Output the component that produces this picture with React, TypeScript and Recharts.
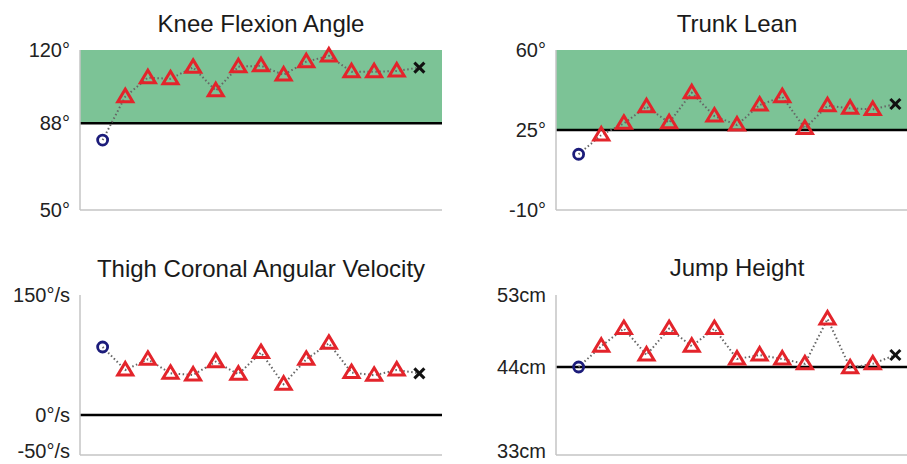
import React from 'react';
import {
  LineChart, Line, XAxis, YAxis, ReferenceArea, ReferenceLine,
} from 'recharts';

// first value = baseline (circle), last = retention (cross), rest = trials (triangles)
const kneeFlexion = [80.6, 99.6, 107.9, 107.4, 112.4, 102.2, 112.7, 113.1, 109.1, 114.9, 117.4, 110.5, 110.5, 110.8, 112.3];
const trunkLean = [14.4, 22.8, 27.9, 35.2, 28.2, 41.3, 31.1, 27.2, 35.9, 39.6, 25.7, 35.6, 34.5, 34.0, 36.4];
const thighVelocity = [85, 56.3, 69.6, 52.1, 50, 66.7, 50.9, 78, 38.4, 69.6, 89.6, 53, 49.6, 56.3, 52.1];
const jumpHeight = [44, 46.6, 48.8, 45.5, 48.8, 46.6, 48.8, 45.0, 45.5, 45.0, 44.4, 50.0, 43.9, 44.4, 45.5];

const kneeTicks = [50, 88, 120];
const trunkTicks = [-10, 25, 60];
const thighTicks = [-50, 0, 150];
const jumpTicks = [33, 44, 53];

const GREEN = '#7cc396';
const RED = '#e3242b';
const NAVY = '#1c1c7a';

const Marker = (props: any) => {
  const { cx, cy, index, count } = props;
  if (cx == null || cy == null) return null;
  if (index === 0) {
    return <circle key={index} cx={cx} cy={cy} r={5} fill="none" stroke={NAVY} strokeWidth={2.8} />;
  }
  if (index === count - 1) {
    const s = 5;
    return (
      <g key={index} stroke="#111" strokeWidth={3}>
        <line x1={cx - s} y1={cy - s} x2={cx + s} y2={cy + s} />
        <line x1={cx - s} y1={cy + s} x2={cx + s} y2={cy - s} />
      </g>
    );
  }
  const h = 12.5;
  const w = 7.5;
  const pts = `${cx},${cy - h * 0.6} ${cx + w},${cy + h * 0.4} ${cx - w},${cy + h * 0.4}`;
  return <polygon key={index} points={pts} fill="none" stroke={RED} strokeWidth={3} strokeLinejoin="miter" />;
};

// y tick label; the lowest one can be nudged up so it stays inside the picture
const YTick = (props: any) => {
  const { x, y, payload, unit, lift, lowest } = props;
  const dy = payload.value === lowest ? -lift : 0;
  return (
    <text x={x} y={y + dy} dy="0.355em" textAnchor="end" fill="#222" fontSize={20}>
      {`${payload.value}${unit}`}
    </text>
  );
};

interface PanelProps {
  title: string;
  values: number[];
  ticks: number[];
  unit: string;
  refValue: number;
  band?: [number, number];
  left: number;
  top: number;
  width: number;
  yWidth: number;
  marginTop: number;
  height: number;
  titleTop: number;
  lift?: number;
}

const Panel: React.FC<PanelProps> = ({
  title, values, ticks, unit, refValue, band, left, top, width, yWidth, marginTop, height, titleTop, lift = 0,
}) => {
  const data = values.map((v, i) => ({ x: i + 1, y: v }));
  const plotLeft = yWidth;
  const plotWidth = 362;
  return (
    <div style={{ position: 'absolute', left, top, width, height }}>
      <div
        style={{
          position: 'absolute', left: plotLeft, width: plotWidth, top: titleTop,
          textAlign: 'center', fontSize: 24, lineHeight: '24px', color: '#1a1a1a', whiteSpace: 'nowrap',
        }}
      >
        {title}
      </div>
      <LineChart
        width={width}
        height={height}
        data={data}
        margin={{ top: marginTop, right: width - yWidth - plotWidth, bottom: height - marginTop - 162, left: 0 }}
      >
        <XAxis
          type="number"
          dataKey="x"
          domain={[0, 16]}
          ticks={[]}
          tick={false}
          tickLine={false}
          height={2}
          axisLine={{ stroke: '#c4c4c4', strokeWidth: 1.5 }}
        />
        <YAxis
          type="number"
          domain={[ticks[0], ticks[ticks.length - 1]]}
          ticks={ticks}
          width={yWidth}
          tickLine={false}
          axisLine={{ stroke: '#c4c4c4', strokeWidth: 1.5 }}
          tickMargin={4}
          tick={<YTick unit={unit} lift={lift} lowest={ticks[0]} />}
          interval={0}
        />
        {band && (
          <ReferenceArea y1={band[0]} y2={band[1]} fill={GREEN} fillOpacity={1} stroke="none" />
        )}
        <ReferenceLine y={refValue} stroke="#000" strokeWidth={2.5} />
        <Line
          type="linear"
          dataKey="y"
          stroke="#666"
          strokeWidth={2}
          strokeDasharray="1.5 2.5"
          isAnimationActive={false}
          dot={(p: any) => <Marker key={p.index} {...p} count={values.length} />}
          activeDot={false}
        />
      </LineChart>
    </div>
  );
};

const App: React.FC = () => (
  <div
    style={{
      position: 'fixed', left: 0, top: 0, width: 907, height: 464, overflow: 'hidden',
      background: '#fff', fontFamily: '"Liberation Sans", Arial, sans-serif',
    }}
  >
    <Panel title="Knee Flexion Angle" values={kneeFlexion} ticks={kneeTicks} unit="°" refValue={88}
      band={[88, 120]} left={0} top={0} width={450} yWidth={80} marginTop={50} height={230} titleTop={12} />
    <Panel title="Trunk Lean" values={trunkLean} ticks={trunkTicks} unit="°" refValue={25}
      band={[25, 60]} left={450} top={0} width={470} yWidth={106} marginTop={50} height={230} titleTop={12} />
    <Panel title="Thigh Coronal Angular Velocity" values={thighVelocity} ticks={thighTicks} unit="°/s" refValue={0}
      left={0} top={230} width={450} yWidth={80} marginTop={65} height={234} titleTop={27} lift={4} />
    <Panel title="Jump Height" values={jumpHeight} ticks={jumpTicks} unit="cm" refValue={44}
      left={450} top={230} width={470} yWidth={106} marginTop={65} height={234} titleTop={26} lift={4} />
  </div>
);

export default App;
